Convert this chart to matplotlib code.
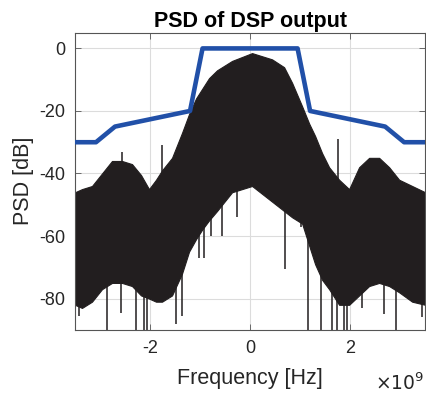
import numpy as np
import matplotlib
matplotlib.use("Agg")
import matplotlib.pyplot as plt
from matplotlib.ticker import FuncFormatter

plt.rcParams['font.family'] = ['Liberation Sans', 'DejaVu Sans']
plt.rcParams['axes.unicode_minus'] = False

# spectral mask (frequency in GHz, level in dB)
mask_f = [-3.5, -3.08, -2.7, -1.2, -0.95, 0.95, 1.2, 2.7, 3.08, 3.5]
mask_db = [-30, -30, -25, -20, 0, 0, -20, -25, -30, -30]

# PSD envelope (GHz, dB)
psd_f = [-3.5, -3.36, -3.16, -2.96, -2.76, -2.56, -2.36, -2.18, -2.02, -1.88,
         -1.76, -1.56, -1.36, -1.22, -1.08, -0.96, -0.82, -0.66, -0.36, 0.04,
         0.44, 0.68, 0.84, 1.04, 1.18, 1.3, 1.44, 1.58, 1.78, 1.98,
         2.18, 2.38, 2.58, 2.78, 2.98, 3.24, 3.5]
psd_top = [-46, -45, -44, -40, -36, -36, -37, -40.5, -45, -42,
           -39, -35, -27, -21, -16, -13, -9.5, -7, -4, -1.5,
           -3.5, -6, -11, -18.5, -24, -28, -33.5, -38, -42, -45,
           -38, -35, -35, -38, -42, -44, -46]
psd_bot = [-82, -83, -81, -77, -75, -75, -76, -79, -80, -81,
           -81, -79, -72, -65, -61, -58, -55, -52, -46, -44,
           -49, -52, -54, -56, -63, -69, -74, -77, -82, -82,
           -79, -76, -75, -76, -78, -81, -82]

# single spikes of the PSD trace (GHz, dB)
spike_f = [-3.42, -2.86, -2.58, -2.28, -2.12, -2.06, -1.48, -1.36, -1.02, -0.92,
           -0.78, -0.56, -0.26, 0.7, 1.02, 1.16, 1.42, 1.64, 1.74, 1.88,
           1.94, 2.24, 2.68, 2.92, 3.44, -2.56, -1.76, 1.76]
spike_db = [-85.5, -90, -84.5, -90, -90, -90, -88, -85.5, -67, -67,
            -60, -60, -54, -70.5, -57, -90, -90, -90, -90, -90,
            -90, -83, -85, -90, -86, -33, -31, -29]

GHZ = 1e9
psd_f = np.array(psd_f) * GHZ
spike_f = np.array(spike_f) * GHZ
mask_f = np.array(mask_f) * GHZ

fig = plt.figure(figsize=(4.26, 3.95), dpi=100)
ax = fig.add_axes([0.176, 0.165, 0.822, 0.752])

trace = '#221e1f'
ax.fill_between(psd_f, psd_bot, psd_top, color=trace, lw=0.8, edgecolor=trace, zorder=2)
mid = np.interp(spike_f, psd_f, (np.array(psd_top) + np.array(psd_bot)) / 2)
ax.vlines(spike_f, spike_db, mid, color=trace, lw=1.1, zorder=2)

ax.plot(mask_f, mask_db, color='#2150a8', lw=3.3, zorder=3)

ax.set_xlim(-3.5 * GHZ, 3.5 * GHZ)
ax.set_ylim(-90, 5)
ax.set_xticks([-2 * GHZ, 0, 2 * GHZ])
ax.set_yticks([-80, -60, -40, -20, 0])
ax.xaxis.set_major_formatter(FuncFormatter(lambda v, p: '%g' % (v / GHZ)))
ax.grid(True, color='#dcdcdc', lw=0.8, zorder=0)
ax.set_axisbelow(True)

c = '#262626'
for s in ax.spines.values():
    s.set_color('#555555')
    s.set_linewidth(0.8)
ax.tick_params(direction='in', length=4, width=0.6, colors='#555555',
               labelcolor=c, labelsize=13, top=True, right=True, pad=7)

ax.set_title('PSD of DSP output', fontsize=15.5, fontweight='bold', color='black', pad=4)
ax.set_xlabel('Frequency [Hz]', fontsize=15.5, color=c, labelpad=8)
ax.set_ylabel('PSD [dB]', fontsize=15.5, color=c, labelpad=4)
fig.text(0.997, 0.012, r'$\times10^{9}$', ha='right', va='baseline',
         fontsize=13.5, color=c)

fig.savefig('out.png', dpi=100)
